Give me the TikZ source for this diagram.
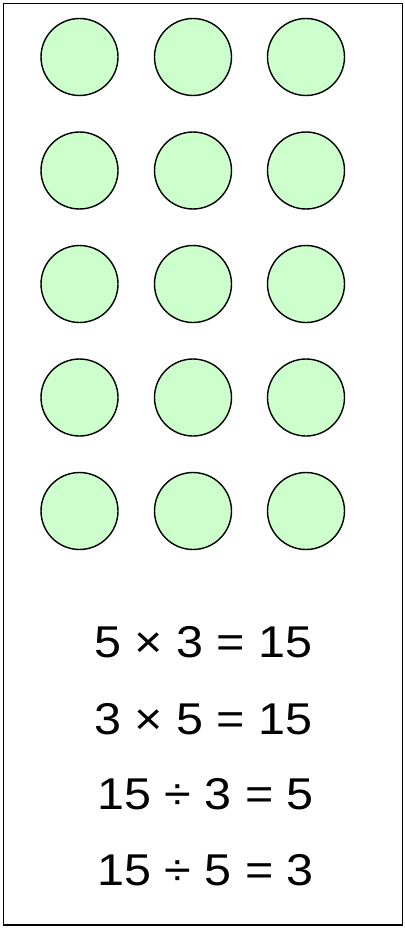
\documentclass[tikz,border=0pt]{standalone}
\usepackage{fontspec}
\setmainfont{Liberation Sans}
\newfontfamily\eqfont[FakeStretch=1.09]{Liberation Sans}
\definecolor{dotgreen}{HTML}{CCFFCC}
\begin{document}
\begin{tikzpicture}[x=1pt,y=-1pt,
  dot/.style={circle,draw=black,line width=1.4pt,fill=dotgreen,minimum size=77pt,inner sep=0pt},
  eq/.style={anchor=base,inner sep=0pt,font=\eqfont\fontsize{44.5}{44.5}\selectfont}]
\useasboundingbox (0,0) rectangle (404,928);
\draw[line width=1.3pt] (3.5,3.5) rectangle (402.5,925);
\foreach \r/\y in {1/57,2/170.5,3/284,4/397.5,5/511}{
  \foreach \c/\x in {1/79.5,2/193,3/306}{
    \node[dot] (d\r\c) at (\x,\y) {};
  }
}
\node[eq] (e1) at (203.5,657) {5 × 3 = 15};
\node[eq] (e2) at (203.5,734) {3 × 5 = 15};
\node[eq] (e3) at (205.5,809) {15 ÷ 3 = 5};
\node[eq] (e4) at (205.5,885) {15 ÷ 5 = 3};
\end{tikzpicture}
\end{document}
